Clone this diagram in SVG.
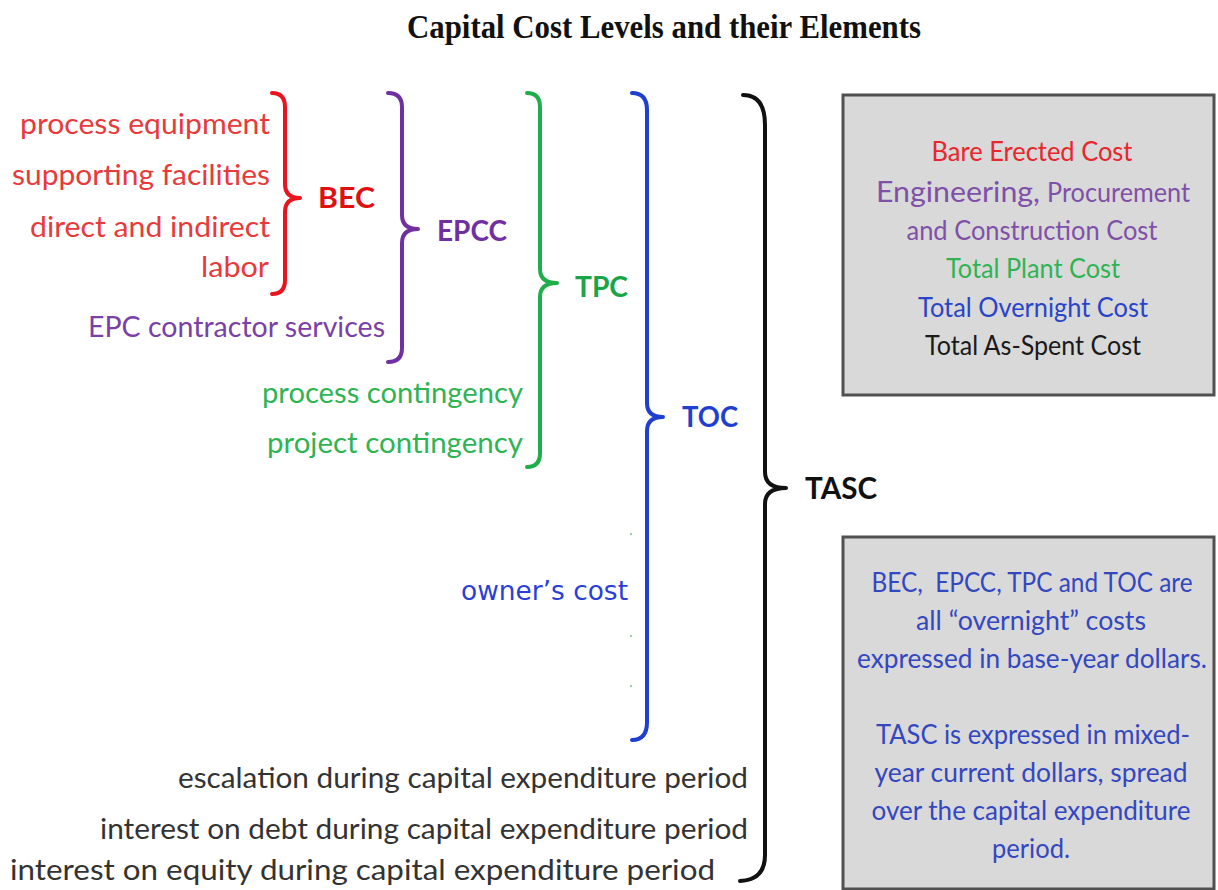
<svg xmlns="http://www.w3.org/2000/svg" width="1218" height="890" viewBox="0 0 1218 890">
<style>
.t{font-family:Lato,"Liberation Sans",sans-serif;font-size:29px}
.b{font-family:Lato,"Liberation Sans",sans-serif;font-size:29px;font-weight:bold}
.bx{font-family:Lato,"Liberation Sans",sans-serif;font-size:26px;text-anchor:middle}
.br{fill:none;stroke-width:4;stroke-linecap:round;stroke-linejoin:round}
.box{fill:#d9d9d9;stroke:#505050;stroke-width:3}
</style>
<rect width="1218" height="890" fill="#ffffff"/>
<text x="407" y="38" textLength="514" lengthAdjust="spacingAndGlyphs" style="font-family:'Liberation Serif',serif;font-size:33px;font-weight:bold" fill="#111">Capital Cost Levels and their Elements</text>

<g id="connectors">
<path class="br" stroke="#e8141e" d="M272 93 Q285 93 285 107 L285 184 Q285 198 300 198 Q285 198 285 212 L285 280 Q285 294 272 294"/>
<path class="br" stroke="#7030a0" d="M388 93 Q402 93 402 107 L402 215 Q402 229 418 229 Q402 229 402 243 L402 348 Q402 362 388 362"/>
<path class="br" stroke="#1fae4a" d="M527 93 Q540 93 540 107 L540 269 Q540 283 557 283 Q540 283 540 297 L540 453 Q540 467 527 467"/>
<path class="br" stroke="#1f3fd0" d="M632 93 Q647 93 647 110 L647 403 Q647 417 663 417 Q647 417 647 431 L647 722 Q647 740 632 740"/>
<path class="br" stroke="#111" d="M743 95 Q765 95 765 125 L765 472 Q765 488 786 488 Q765 488 765 504 L765 855 Q765 880 740 881"/>
</g>

<g id="bec-items" fill="#e83a3a">
<text class="t" x="270" y="134" text-anchor="end" textLength="250" lengthAdjust="spacingAndGlyphs">process equipment</text>
<text class="t" x="270" y="185" text-anchor="end" textLength="258" lengthAdjust="spacingAndGlyphs">supporting facilities</text>
<text class="t" x="270" y="237" text-anchor="end" textLength="240" lengthAdjust="spacingAndGlyphs">direct and indirect</text>
<text class="t" x="269" y="277" text-anchor="end" textLength="68" lengthAdjust="spacingAndGlyphs">labor</text>
</g>
<g id="bec"><text class="b" x="318" y="208" textLength="57" lengthAdjust="spacingAndGlyphs" fill="#e01010">BEC</text></g>

<g id="epc-services"><text class="t" x="385" y="337" text-anchor="end" textLength="297" lengthAdjust="spacingAndGlyphs" fill="#7a40a8">EPC contractor services</text></g>
<g id="epcc"><text class="b" x="437" y="241" textLength="70" lengthAdjust="spacingAndGlyphs" fill="#7030a0">EPCC</text></g>

<g id="contingency" fill="#2fb454">
<text class="t" x="523" y="403" text-anchor="end" textLength="261" lengthAdjust="spacingAndGlyphs">process contingency</text>
<text class="t" x="523" y="453" text-anchor="end" textLength="256" lengthAdjust="spacingAndGlyphs">project contingency</text>
</g>
<g id="tpc"><text class="b" x="575" y="297" textLength="53" lengthAdjust="spacingAndGlyphs" fill="#1aa548">TPC</text></g>

<g id="owners-cost">
<text x="628" y="600" text-anchor="end" textLength="167" lengthAdjust="spacingAndGlyphs" style="font-family:'DejaVu Sans',sans-serif;font-size:26px" fill="#2a3ed8">owner’s cost</text>
<circle cx="631" cy="534" r="1.2" fill="#9ccfa8"/>
<circle cx="631" cy="636" r="1.2" fill="#9ccfa8"/>
<circle cx="631" cy="686" r="1.2" fill="#9ccfa8"/>
</g>
<g id="toc"><text class="b" x="682" y="427" textLength="56" lengthAdjust="spacingAndGlyphs" fill="#1f3fd0">TOC</text></g>

<g id="tasc-items" fill="#333">
<text class="t" x="748" y="788" text-anchor="end" textLength="570" lengthAdjust="spacingAndGlyphs">escalation during capital expenditure period</text>
<text class="t" x="748" y="839" text-anchor="end" textLength="648" lengthAdjust="spacingAndGlyphs">interest on debt during capital expenditure period</text>
<text class="t" x="715" y="880" text-anchor="end" textLength="705" lengthAdjust="spacingAndGlyphs">interest on equity during capital expenditure period</text>
</g>
<g id="tasc"><text class="b" x="805" y="499" textLength="72" lengthAdjust="spacingAndGlyphs" fill="#111" style="font-size:30px">TASC</text></g>

<g id="legend-box">
<rect class="box" x="843" y="95" width="371" height="300"/>
<text class="bx" x="1032" y="161" textLength="201" lengthAdjust="spacingAndGlyphs" fill="#e8262b">Bare Erected Cost</text>
<text x="876" y="202" style="font-family:Lato,'Liberation Sans',sans-serif;font-size:29px" fill="#8050a8" textLength="164" lengthAdjust="spacingAndGlyphs">Engineering,</text>
<text x="1047" y="202" style="font-family:Lato,'Liberation Sans',sans-serif;font-size:26px" fill="#8050a8" textLength="143" lengthAdjust="spacingAndGlyphs">Procurement</text>
<text class="bx" x="1032" y="240" textLength="251" lengthAdjust="spacingAndGlyphs" fill="#8050a8">and Construction Cost</text>
<text class="bx" x="1033" y="278" textLength="174" lengthAdjust="spacingAndGlyphs" fill="#2fb454">Total Plant Cost</text>
<text class="bx" x="1033" y="317" textLength="230" lengthAdjust="spacingAndGlyphs" fill="#2a44c8">Total Overnight Cost</text>
<text class="bx" x="1033" y="355" textLength="216" lengthAdjust="spacingAndGlyphs" fill="#1a1a1a">Total As-Spent Cost</text>
</g>

<g id="note-box" fill="#3347c0">
<rect class="box" x="843" y="537" width="371" height="352"/>
<text class="bx" x="1032" y="592" textLength="321" lengthAdjust="spacingAndGlyphs">BEC,&#160; EPCC, TPC and TOC are</text>
<text class="bx" x="1031" y="630" textLength="230" lengthAdjust="spacingAndGlyphs">all “overnight” costs</text>
<text class="bx" x="1032" y="668" textLength="350" lengthAdjust="spacingAndGlyphs">expressed in base-year dollars.</text>
<text class="bx" x="1033" y="744" textLength="314" lengthAdjust="spacingAndGlyphs">TASC is expressed in mixed-</text>
<text class="bx" x="1031" y="782" textLength="313" lengthAdjust="spacingAndGlyphs">year current dollars, spread</text>
<text class="bx" x="1031" y="820" textLength="319" lengthAdjust="spacingAndGlyphs">over the capital expenditure</text>
<text class="bx" x="1031" y="858" textLength="78" lengthAdjust="spacingAndGlyphs">period.</text>
</g>
</svg>
